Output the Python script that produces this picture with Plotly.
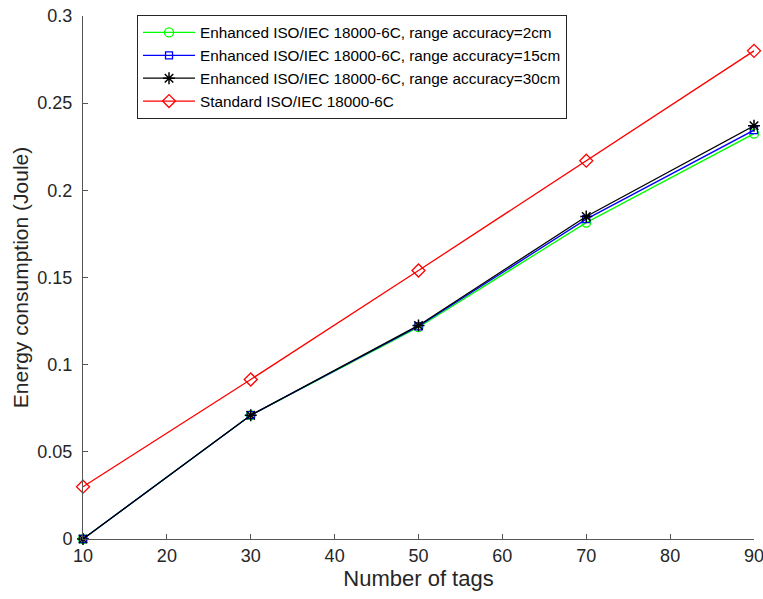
import plotly.graph_objects as go

tags = [10, 30, 50, 70, 90]
enh_2cm = [0.0, 0.071, 0.1215, 0.1815, 0.2325]
enh_15cm = [0.0, 0.071, 0.122, 0.1835, 0.2345]
enh_30cm = [0.0, 0.071, 0.1225, 0.1850, 0.2370]
standard = [0.030, 0.0915, 0.1540, 0.2170, 0.2800]

names = [
    "Enhanced ISO/IEC 18000-6C, range accuracy=2cm",
    "Enhanced ISO/IEC 18000-6C, range accuracy=15cm",
    "Enhanced ISO/IEC 18000-6C, range accuracy=30cm",
    "Standard ISO/IEC 18000-6C",
]
xtick_vals = [10, 20, 30, 40, 50, 60, 70, 80, 90]
ytick_vals = [0, 0.05, 0.1, 0.15, 0.2, 0.25, 0.3]
ytick_text = ["0", "0.05", "0.1", "0.15", "0.2", "0.25", "0.3"]

FONT = "Liberation Sans, Arial, Helvetica, sans-serif"

fig = go.Figure()
fig.add_trace(go.Scatter(x=tags, y=enh_2cm, name=names[0], mode="lines+markers", cliponaxis=False,
                         line=dict(color="#00ff00", width=1.3),
                         marker=dict(symbol="circle-open", size=9, color="#00ff00", line=dict(width=1.3))))
fig.add_trace(go.Scatter(x=tags, y=enh_15cm, name=names[1], mode="lines+markers", cliponaxis=False,
                         line=dict(color="#0000ff", width=1.3),
                         marker=dict(symbol="square-open", size=7, color="#0000ff", line=dict(width=1.3))))
fig.add_trace(go.Scatter(x=tags, y=enh_30cm, name=names[2], mode="lines+markers", cliponaxis=False,
                         line=dict(color="#000000", width=1.3),
                         marker=dict(symbol="asterisk-open", size=10, color="#000000", line=dict(width=1.5))))
fig.add_trace(go.Scatter(x=tags, y=standard, name=names[3], mode="lines+markers", cliponaxis=False,
                         line=dict(color="#ff0000", width=1.3),
                         marker=dict(symbol="diamond-open", size=10, color="#ff0000", line=dict(width=1.3))))

axis_common = dict(showgrid=False, zeroline=False, showline=True, linecolor="#555555", linewidth=1,
                   ticks="inside", ticklen=5, tickcolor="#555555", automargin=False,
                   ticklabeloverflow="allow",
                   tickfont=dict(family=FONT, size=18, color="#262626"))
fig.update_layout(
    width=763, height=599,
    margin=dict(l=83, r=9, t=16, b=60),
    plot_bgcolor="white", paper_bgcolor="white",
    font=dict(family=FONT, color="#262626"),
    xaxis=dict(range=[10, 90], tickvals=xtick_vals,
               title=dict(text="Number of tags", font=dict(size=22, color="#262626"), standoff=2), **axis_common),
    yaxis=dict(range=[0, 0.3], tickvals=ytick_vals, ticktext=ytick_text, ticklabelstandoff=6,
               title=dict(text="Energy consumption (Joule)", font=dict(size=21, color="#262626"), standoff=3), **axis_common),
    legend=dict(x=0.0805, y=1.002, xanchor="left", yanchor="top", bgcolor="white",
                bordercolor="#262626", borderwidth=1, font=dict(family=FONT, size=15.3, color="#000000"),
                tracegroupgap=0, itemwidth=52),
    showlegend=True,
)
fig.write_html("out.html", config={"displayModeBar": False},
               post_script="document.body.style.margin='0';document.body.style.overflow='hidden';")
